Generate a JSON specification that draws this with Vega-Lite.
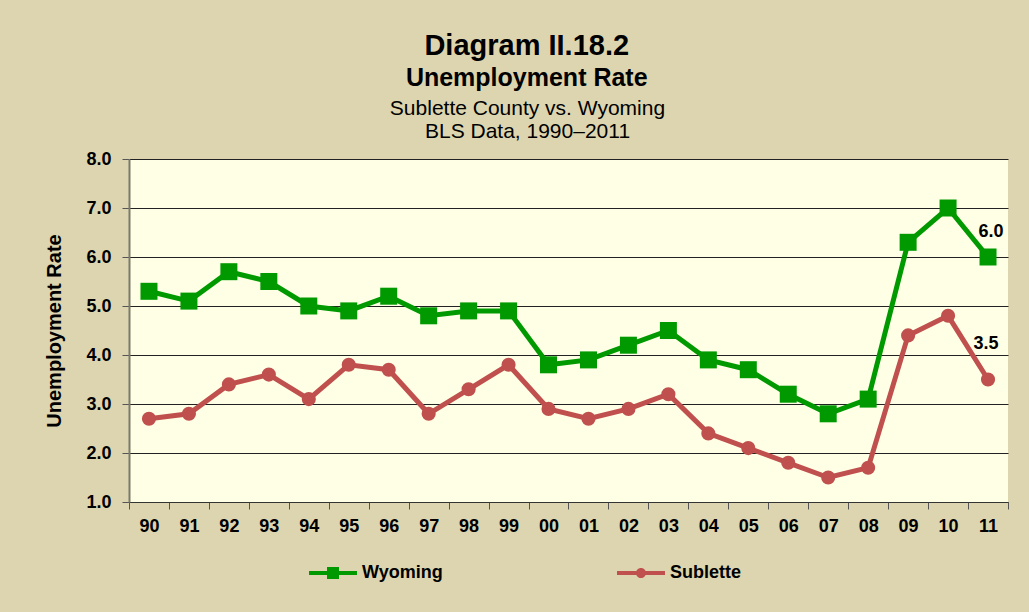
{
  "$schema": "https://vega.github.io/schema/vega-lite/v6.json",
  "width": 879,
  "height": 343,
  "autosize": {"type": "none"},
  "padding": {"left": 129, "top": 159, "right": 21, "bottom": 110},
  "background": "#DDD5AF",
  "config": {"font": "Liberation Sans", "view": {"fill": "#FFFFE6", "stroke": null}},
  "title": {
    "text": "Diagram II.18.2",
    "subtitle": "Unemployment Rate",
    "fontSize": 29,
    "fontWeight": "bold",
    "color": "black",
    "subtitleFontSize": 25,
    "subtitleFontWeight": "bold",
    "subtitleColor": "black",
    "subtitlePadding": 5,
    "anchor": "middle",
    "frame": "bounds",
    "offset": 6
  },
  "data": {
    "values": [
      {"year": "90", "series": "Wyoming", "rate": 5.3}, {"year": "91", "series": "Wyoming", "rate": 5.1},
      {"year": "92", "series": "Wyoming", "rate": 5.7}, {"year": "93", "series": "Wyoming", "rate": 5.5},
      {"year": "94", "series": "Wyoming", "rate": 5.0}, {"year": "95", "series": "Wyoming", "rate": 4.9},
      {"year": "96", "series": "Wyoming", "rate": 5.2}, {"year": "97", "series": "Wyoming", "rate": 4.8},
      {"year": "98", "series": "Wyoming", "rate": 4.9}, {"year": "99", "series": "Wyoming", "rate": 4.9},
      {"year": "00", "series": "Wyoming", "rate": 3.8}, {"year": "01", "series": "Wyoming", "rate": 3.9},
      {"year": "02", "series": "Wyoming", "rate": 4.2}, {"year": "03", "series": "Wyoming", "rate": 4.5},
      {"year": "04", "series": "Wyoming", "rate": 3.9}, {"year": "05", "series": "Wyoming", "rate": 3.7},
      {"year": "06", "series": "Wyoming", "rate": 3.2}, {"year": "07", "series": "Wyoming", "rate": 2.8},
      {"year": "08", "series": "Wyoming", "rate": 3.1}, {"year": "09", "series": "Wyoming", "rate": 6.3},
      {"year": "10", "series": "Wyoming", "rate": 7.0}, {"year": "11", "series": "Wyoming", "rate": 6.0},
      {"year": "90", "series": "Sublette", "rate": 2.7}, {"year": "91", "series": "Sublette", "rate": 2.8},
      {"year": "92", "series": "Sublette", "rate": 3.4}, {"year": "93", "series": "Sublette", "rate": 3.6},
      {"year": "94", "series": "Sublette", "rate": 3.1}, {"year": "95", "series": "Sublette", "rate": 3.8},
      {"year": "96", "series": "Sublette", "rate": 3.7}, {"year": "97", "series": "Sublette", "rate": 2.8},
      {"year": "98", "series": "Sublette", "rate": 3.3}, {"year": "99", "series": "Sublette", "rate": 3.8},
      {"year": "00", "series": "Sublette", "rate": 2.9}, {"year": "01", "series": "Sublette", "rate": 2.7},
      {"year": "02", "series": "Sublette", "rate": 2.9}, {"year": "03", "series": "Sublette", "rate": 3.2},
      {"year": "04", "series": "Sublette", "rate": 2.4}, {"year": "05", "series": "Sublette", "rate": 2.1},
      {"year": "06", "series": "Sublette", "rate": 1.8}, {"year": "07", "series": "Sublette", "rate": 1.5},
      {"year": "08", "series": "Sublette", "rate": 1.7}, {"year": "09", "series": "Sublette", "rate": 4.4},
      {"year": "10", "series": "Sublette", "rate": 4.8}, {"year": "11", "series": "Sublette", "rate": 3.5}
    ]
  },
  "encoding": {
    "y": {
      "field": "rate",
      "type": "quantitative",
      "scale": {"domain": [1, 8], "nice": false, "zero": false},
      "axis": {
        "values": [1, 2, 3, 4, 5, 6, 7, 8],
        "format": ".1f",
        "labelFontSize": 18,
        "labelFontWeight": "bold",
        "labelColor": "black",
        "labelPadding": 11,
        "tickSize": 7,
        "tickColor": "#555555",
        "domainColor": "#7a7a6a",
        "domainWidth": 2,
        "gridColor": "#222222",
        "gridWidth": 1,
        "title": "Unemployment Rate",
        "titleFontSize": 20,
        "titleFontWeight": "bold",
        "titleColor": "black",
        "titlePadding": 21
      }
    },
    "color": {
      "field": "series",
      "type": "nominal",
      "scale": {"domain": ["Wyoming", "Sublette"], "range": ["#009A00", "#C0504D"]},
      "legend": {
        "orient": "none",
        "legendX": 180,
        "legendY": 390,
        "direction": "horizontal",
        "title": null,
        "padding": 0,
        "symbolSize": 2304,
        "symbolType": "M-1,-0.08L1,-0.08L1,0.08L-1,0.08Z M-0.25,-0.25L0.25,-0.25L0.25,0.25L-0.25,0.25Z",
        "labelFontSize": 18,
        "labelFontWeight": "bold",
        "labelColor": "black",
        "labelOffset": 5,
        "columnPadding": 174,
        "encode": {
          "symbols": {
            "update": {
              "shape": {"signal": "datum.value === 'Wyoming' ? 'M-1,-0.08L1,-0.08L1,0.08L-1,0.08Z M-0.25,-0.25L0.25,-0.25L0.25,0.25L-0.25,0.25Z' : 'M-1,-0.08L1,-0.08L1,0.08L-1,0.08Z M-0.21,0A0.21,0.21 0 1,1 0.21,0A0.21,0.21 0 1,1 -0.21,0Z'"},
              "size": {"value": 2304},
              "fill": {"signal": "datum.value === 'Wyoming' ? '#009A00' : '#C0504D'"},
              "strokeWidth": {"value": 0},
              "opacity": {"value": 1}
            }
          }
        }
      }
    }
  },
  "layer": [
    {
      "mark": {"type": "line", "strokeWidth": 5},
      "encoding": {
        "x": {
          "field": "year",
          "type": "ordinal",
          "sort": null,
          "scale": {"type": "band", "paddingInner": 0, "paddingOuter": 0},
          "axis": {
            "title": null,
            "labelAngle": 0,
            "labelFontSize": 18,
            "labelFontWeight": "bold",
            "labelColor": "black",
            "labelPadding": 8,
            "tickBand": "extent",
            "tickSize": 7,
            "tickColor": "#555555",
            "domainColor": "#333333",
            "grid": false
          }
        }
      }
    },
    {
      "transform": [{"filter": "datum.series === 'Wyoming'"}],
      "mark": {"type": "point", "filled": true, "opacity": 1, "shape": "square", "size": 289},
      "encoding": {
        "x": {
          "field": "year",
          "type": "ordinal",
          "sort": null,
          "axis": {
            "orient": "top",
            "labels": false,
            "ticks": false,
            "domain": false,
            "grid": false,
            "title": ["Sublette County vs. Wyoming", "BLS Data, 1990–2011"],
            "titleFontSize": 21,
            "titleFontWeight": "normal",
            "titleColor": "black",
            "titleX": 398,
            "titleY": -45,
            "titleAlign": "center",
            "titleBaseline": "alphabetic",
            "titleLineHeight": 23
          }
        }
      }
    },
    {
      "transform": [{"filter": "datum.series === 'Sublette'"}],
      "mark": {"type": "point", "filled": true, "opacity": 1, "shape": "circle", "size": 200},
      "encoding": {
        "x": {"field": "year", "type": "ordinal", "sort": null, "axis": null}
      }
    },
    {
      "transform": [{"filter": "datum.year === '11' && datum.series === 'Wyoming'"}],
      "mark": {"type": "text", "fontSize": 18, "fontWeight": "bold", "color": "black", "baseline": "alphabetic", "align": "center", "dx": 3, "dy": -20},
      "encoding": {
        "x": {"field": "year", "type": "ordinal", "sort": null, "axis": null},
        "text": {"field": "rate", "type": "quantitative", "format": ".1f"},
        "color": {"value": "black"}
      }
    },
    {
      "transform": [{"filter": "datum.year === '11' && datum.series === 'Sublette'"}],
      "mark": {"type": "text", "fontSize": 18, "fontWeight": "bold", "color": "black", "baseline": "alphabetic", "align": "center", "dx": -2, "dy": -31},
      "encoding": {
        "x": {"field": "year", "type": "ordinal", "sort": null, "axis": null},
        "text": {"field": "rate", "type": "quantitative", "format": ".1f"},
        "color": {"value": "black"}
      }
    }
  ],
  "resolve": {"axis": {"x": "independent"}}
}
